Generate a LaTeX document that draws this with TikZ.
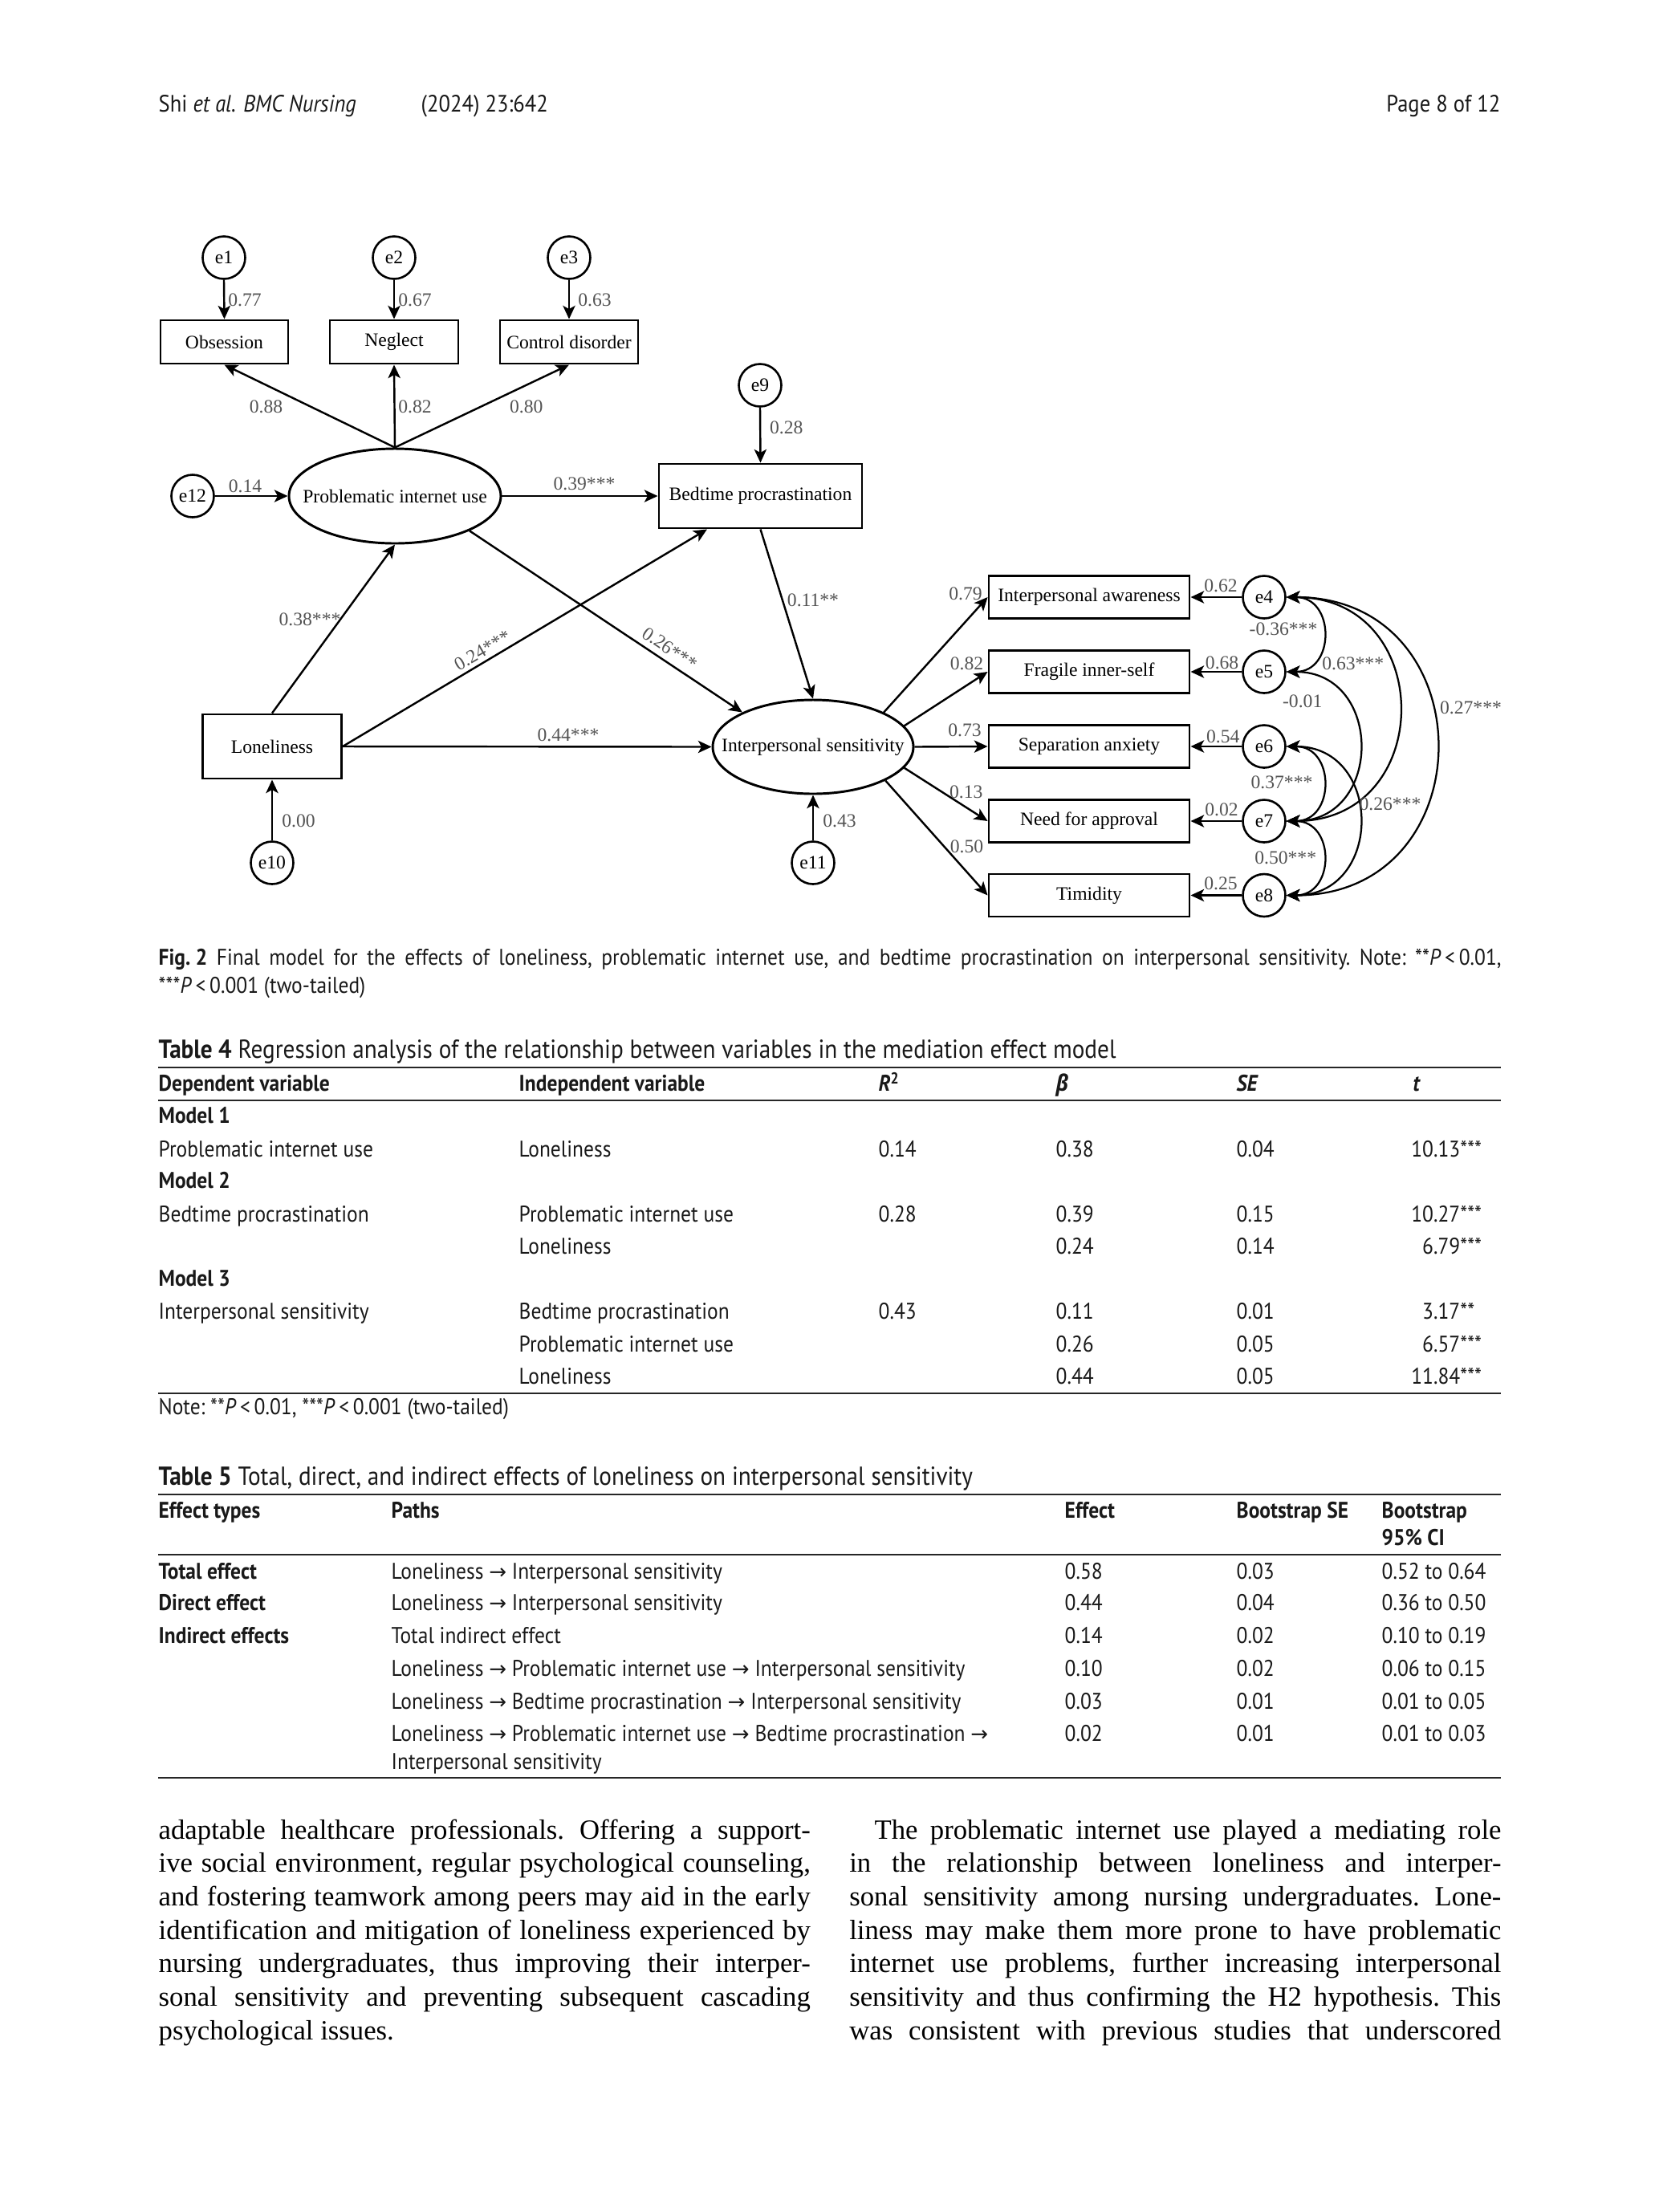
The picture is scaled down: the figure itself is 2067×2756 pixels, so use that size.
\documentclass[tikz,border=0pt]{standalone}
\usepackage{fontspec}
\setmainfont{Liberation Serif}
\newfontfamily\sansf[FakeStretch=0.9]{PT Sans}
\newfontfamily\grkf[FakeStretch=0.9]{Open Sans}
\newfontfamily\arrf{DejaVu Sans}
\usetikzlibrary{arrows.meta,shapes.geometric,calc}
\definecolor{labgray}{gray}{0.33}
\definecolor{txtgray}{gray}{0.1}
\newcommand\pxu[1]{#1*0.288pt}
\newcommand\dfont{\rmfamily\fontsize{6.8}{8}\selectfont}
\newcommand\tfont{\frenchspacing\sansf\fontsize{8.15}{9.6}\selectfont}
\newcommand\cfont{\frenchspacing\sansf\fontsize{9.35}{11}\selectfont}
\newcommand\hfont{\sansf\fontsize{8.5}{10}\selectfont}
\newcommand\bfont{\frenchspacing\rmfamily\fontsize{10}{12}\selectfont}
\newcommand\myar{{\arrf\fontsize{7.5}{7.5}\selectfont →}}
\newcommand\jl[2]{\makebox[#1][s]{#2}}
\newcommand\ctext[1]{\makebox[0pt]{#1}}
\tikzset{
  box/.style={draw, line width=0.85pt, inner sep=0pt, font=\dfont},
  lat/.style={draw, ellipse, line width=0.85pt, inner sep=0pt, font=\dfont},
  err/.style={draw, circle, line width=0.75pt, inner sep=0pt, minimum size=\pxu{53}, font=\dfont},
  lab/.style={inner sep=0pt, font=\dfont, text=labgray},
  arr/.style={-{Stealth[length=4.8pt,width=4.4pt,inset=1.2pt]}, line width=0.7pt},
  cov/.style={{Stealth[length=4.8pt,width=4.4pt,inset=1.2pt]}-{Stealth[length=4.8pt,width=4.4pt,inset=1.2pt]}, line width=0.65pt},
  tx/.style={inner sep=0pt, anchor=mid west, font=\tfont, text=txtgray},
  txr/.style={inner sep=0pt, anchor=mid east, font=\tfont, text=txtgray},
  capt/.style={inner sep=0pt, anchor=mid west, font=\cfont, text=txtgray},
  hdr/.style={inner sep=0pt, font=\hfont, text=txtgray},
  trule/.style={line width=0.5pt, draw=black!85},
  body/.style={inner sep=0pt, anchor=mid west, font=\bfont},
  rbox/.style={box, minimum width=\pxu{250}, minimum height=\pxu{53}},
  tbox/.style={box, minimum height=\pxu{54}},
}
\begin{document}
\begin{tikzpicture}[x=0.288pt,y=-0.288pt]
\fill[white] (0,0) rectangle (2067,2756);
\useasboundingbox (0,0) rectangle (2067,2756);

% ---------- header ----------
\node[hdr, anchor=mid west] (h1) at (197,132) {Shi \textit{et al. BMC Nursing}};
\node[hdr, anchor=mid west] (h2) at (524,132) {(2024) 23:642};
\node[hdr, anchor=mid east] (h3) at (1870,132) {Page 8 of 12};

% ---------- diagram nodes ----------
\node[err] (e1) at (279,321) {e1};
\node[err] (e2) at (491,321) {e2};
\node[err] (e3) at (709,321) {e3};
\node[tbox, minimum width=\pxu{159}] (obs) at (279.5,426) {Obsession};
\node[tbox, minimum width=\pxu{160}] (neg) at (491,426) {Neglect};
\node[tbox, minimum width=\pxu{172}] (con) at (709,426) {Control disorder};
\node[lat, minimum width=\pxu{264}, minimum height=\pxu{118}] (piu) at (492,618) {\ctext{Problematic internet use}};
\node[err] (e12) at (240,618) {e12};
\node[err] (e9) at (947,480) {e9};
\node[box, minimum width=\pxu{253}, minimum height=\pxu{80}] (bed) at (947.5,618) {Bedtime procrastination};
\node[box, minimum width=\pxu{173}, minimum height=\pxu{80}] (lon) at (339,930) {Loneliness};
\node[err] (e10) at (339,1075) {e10};
\node[lat, minimum width=\pxu{250}, minimum height=\pxu{117}] (is) at (1013,930.5) {\ctext{Interpersonal sensitivity}};
\node[err] (e11) at (1013,1075) {e11};

\node[rbox] (rb1) at (1357,744) {Interpersonal awareness};
\node[rbox] (rb2) at (1357,837) {Fragile inner-self};
\node[rbox] (rb3) at (1357,930) {Separation anxiety};
\node[rbox] (rb4) at (1357,1023) {Need for approval};
\node[rbox] (rb5) at (1357,1115.5) {Timidity};
\node[err] (e4) at (1575,744) {e4};
\node[err] (e5) at (1575,837) {e5};
\node[err] (e6) at (1575,930) {e6};
\node[err] (e7) at (1575,1023) {e7};
\node[err] (e8) at (1575,1115.5) {e8};

% ---------- connectors ----------
\draw[arr] (e1.south) -- (obs.north);
\draw[arr] (e2.south) -- (neg.north);
\draw[arr] (e3.south) -- (con.north);
\draw[arr] (piu.north) -- (obs.south);
\draw[arr] (piu.north) -- (neg.south);
\draw[arr] (piu.north) -- (con.south);
\draw[arr] (e12.east) -- (piu.west);
\draw[arr] (piu.east) -- (bed.west);
\draw[arr] (e9.south) -- (bed.north);
\draw[arr] (lon.north) -- (piu.south);
\coordinate (bedin) at ($(bed.south west)!0.24!(bed.south east)$);
\draw[arr] (lon.east) -- (bedin);
\draw[arr] (lon.east) -- (is.west);
\draw[arr] (piu.-25) -- (is.154);
\draw[arr] (bed.south) -- (is.north);
\draw[arr] (e10.north) -- (lon.south);
\draw[arr] (e11.north) -- (is.south);
\draw[arr] (is.26) -- (rb1.west);
\draw[arr] (is.13) -- (rb2.west);
\draw[arr] (is.east) -- (rb3.west);
\draw[arr] (is.-13) -- (rb4.west);
\draw[arr] (is.-25) -- (rb5.west);
\draw[arr] (e4.west) -- (rb1.east);
\draw[arr] (e5.west) -- (rb2.east);
\draw[arr] (e6.west) -- (rb3.east);
\draw[arr] (e7.west) -- (rb4.east);
\draw[arr] (e8.west) -- (rb5.east);
% covariances
\draw[cov] (e4.east) .. controls +(61,0) and +(61,0) .. (e5.east);
\draw[cov] (e4.east) .. controls +(187,0) and +(187,0) .. (e7.east);
\draw[cov] (e4.east) .. controls +(249,0) and +(249,0) .. (e8.east);
\draw[cov] (e5.east) .. controls +(121,0) and +(121,0) .. (e7.east);
\draw[cov] (e6.east) .. controls +(61,0) and +(61,0) .. (e7.east);
\draw[cov] (e6.east) .. controls +(121,0) and +(121,0) .. (e8.east);
\draw[cov] (e7.east) .. controls +(61,0) and +(61,0) .. (e8.east);

% ---------- path labels ----------
\node[lab] (l1) at (305,374) {0.77};
\node[lab] (l2) at (517,374) {0.67};
\node[lab] (l3) at (741,374) {0.63};
\node[lab] (l4) at (331.5,507) {0.88};
\node[lab] (l5) at (517,507) {0.82};
\node[lab] (l6) at (655.7,507) {0.80};
\node[lab] (l7) at (305.5,606) {0.14};
\node[lab] (l8) at (979.7,533) {0.28};
\node[lab] (l9) at (728,603) {0.39***};
\node[lab] (l10) at (386,771.5) {0.38***};
\node[lab, rotate=30] (l11) at (601,810.5) {0.24***};
\node[lab, rotate=-33.7] (l12) at (834.6,808) {0.26***};
\node[lab] (l13) at (1013,748) {0.11**};
\node[lab] (l14) at (708,915.7) {0.44***};
\node[lab] (l15) at (372,1023) {0.00};
\node[lab] (l16) at (1046,1023) {0.43};
\node[lab] (l17) at (1203,740) {0.79};
\node[lab] (l18) at (1204.5,826.7) {0.82};
\node[lab] (l19) at (1202,910) {0.73};
\node[lab] (l20) at (1203.7,986.7) {0.13};
\node[lab] (l21) at (1204.5,1055) {0.50};
\node[lab] (l22) at (1521,729.3) {0.62};
\node[lab] (l23) at (1522.6,826) {0.68};
\node[lab] (l24) at (1523.7,917.7) {0.54};
\node[lab] (l25) at (1522,1008.3) {0.02};
\node[lab] (l26) at (1521,1100.7) {0.25};
\node[lab] (l27) at (1599,783.3) {-0.36***};
\node[lab] (l28) at (1685.7,826.7) {0.63***};
\node[lab] (l29) at (1622.7,874) {-0.01};
\node[lab] (l30) at (1832.5,881.7) {0.27***};
\node[lab] (l31) at (1597,975) {0.37***};
\node[lab] (l32) at (1732,1001.7) {0.26***};
\node[lab] (l33) at (1601.7,1068.3) {0.50***};

% ---------- figure caption ----------
\node[capt, font=\tfont] (fc1) at (197,1195) {\jl{481.8pt}{\mbox{\textbf{Fig.\ 2}} Final model for the effects of loneliness, problematic internet use, and bedtime procrastination on interpersonal sensitivity. Note: **\textit{P}\,<\,0.01,}};
\node[capt, font=\tfont] (fc2) at (197,1230) {***\textit{P}\,<\,0.001 (two-tailed)};

% ---------- Table 4 ----------
\node[capt] (t4c) at (197,1311) {\textbf{Table 4} Regression analysis of the relationship between variables in the mediation effect model};
\draw[trule] (197,1330) -- (1870,1330);
\node[tx] (t4h1) at (197,1352) {\textbf{Dependent variable}};
\node[tx] (t4h2) at (646,1352) {\textbf{Independent variable}};
\node[tx] (t4h3) at (1094,1352) {\textbf{\textit{R}\textsuperscript{2}}};
\node[tx] (t4h4) at (1315,1352) {{\grkf\bfseries\itshape β}};
\node[tx] (t4h5) at (1540,1352) {\textbf{\textit{SE}}};
\node[tx] (t4h6) at (1760,1352) {\textbf{\textit{t}}};
\draw[trule] (197,1371) -- (1870,1371);
\node[tx] (m1) at (197,1392) {\textbf{Model 1}};
\node[tx] (r1a) at (197,1434) {Problematic internet use};
\node[tx] (r1b) at (646,1434) {Loneliness};
\node[tx] (r1c) at (1094,1434) {0.14};
\node[tx] (r1d) at (1315,1434) {0.38};
\node[tx] (r1e) at (1540,1434) {0.04};
\node[txr] (r1f) at (1820,1434) {10.13\rlap{***}};
\node[tx] (m2) at (197,1473) {\textbf{Model 2}};
\node[tx] (r2a) at (197,1515) {Bedtime procrastination};
\node[tx] (r2b) at (646,1515) {Problematic internet use};
\node[tx] (r2c) at (1094,1515) {0.28};
\node[tx] (r2d) at (1315,1515) {0.39};
\node[tx] (r2e) at (1540,1515) {0.15};
\node[txr] (r2f) at (1820,1515) {10.27\rlap{***}};
\node[tx] (r3b) at (646,1555) {Loneliness};
\node[tx] (r3d) at (1315,1555) {0.24};
\node[tx] (r3e) at (1540,1555) {0.14};
\node[txr] (r3f) at (1820,1555) {6.79\rlap{***}};
\node[tx] (m3) at (197,1595) {\textbf{Model 3}};
\node[tx] (r4a) at (197,1636) {Interpersonal sensitivity};
\node[tx] (r4b) at (646,1636) {Bedtime procrastination};
\node[tx] (r4c) at (1094,1636) {0.43};
\node[tx] (r4d) at (1315,1636) {0.11};
\node[tx] (r4e) at (1540,1636) {0.01};
\node[txr] (r4f) at (1820,1636) {3.17\rlap{**}};
\node[tx] (r5b) at (646,1677) {Problematic internet use};
\node[tx] (r5d) at (1315,1677) {0.26};
\node[tx] (r5e) at (1540,1677) {0.05};
\node[txr] (r5f) at (1820,1677) {6.57\rlap{***}};
\node[tx] (r6b) at (646,1717) {Loneliness};
\node[tx] (r6d) at (1315,1717) {0.44};
\node[tx] (r6e) at (1540,1717) {0.05};
\node[txr] (r6f) at (1820,1717) {11.84\rlap{***}};
\draw[trule] (197,1736) -- (1870,1736);
\node[tx] (t4n) at (197,1755) {Note: **\textit{P}\,<\,0.01, ***\textit{P}\,<\,0.001 (two-tailed)};

% ---------- Table 5 ----------
\node[capt] (t5c) at (197,1843) {\textbf{Table 5} Total, direct, and indirect effects of loneliness on interpersonal sensitivity};
\draw[trule] (197,1862) -- (1870,1862);
\node[tx] (t5h1) at (197,1884) {\textbf{Effect types}};
\node[tx] (t5h2) at (487,1884) {\textbf{Paths}};
\node[tx] (t5h3) at (1326,1884) {\textbf{Effect}};
\node[tx] (t5h4) at (1540,1884) {\textbf{Bootstrap SE}};
\node[tx] (t5h5) at (1721,1884) {\textbf{Bootstrap}};
\node[tx] (t5h6) at (1721,1918) {\textbf{95\% CI}};
\draw[trule] (197,1937) -- (1870,1937);
\node[tx] (s1a) at (197,1960) {\textbf{Total effect}};
\node[tx] (s1b) at (487,1960) {Loneliness \myar\ Interpersonal sensitivity};
\node[tx] (s1c) at (1326,1960) {0.58};
\node[tx] (s1d) at (1540,1960) {0.03};
\node[tx] (s1e) at (1721,1960) {0.52 to 0.64};
\node[tx] (s2a) at (197,1999) {\textbf{Direct effect}};
\node[tx] (s2b) at (487,1999) {Loneliness \myar\ Interpersonal sensitivity};
\node[tx] (s2c) at (1326,1999) {0.44};
\node[tx] (s2d) at (1540,1999) {0.04};
\node[tx] (s2e) at (1721,1999) {0.36 to 0.50};
\node[tx] (s3a) at (197,2040) {\textbf{Indirect effects}};
\node[tx] (s3b) at (487,2040) {Total indirect effect};
\node[tx] (s3c) at (1326,2040) {0.14};
\node[tx] (s3d) at (1540,2040) {0.02};
\node[tx] (s3e) at (1721,2040) {0.10 to 0.19};
\node[tx] (s4b) at (487,2081) {Loneliness \myar\ Problematic internet use \myar\ Interpersonal sensitivity};
\node[tx] (s4c) at (1326,2081) {0.10};
\node[tx] (s4d) at (1540,2081) {0.02};
\node[tx] (s4e) at (1721,2081) {0.06 to 0.15};
\node[tx] (s5b) at (487,2122) {Loneliness \myar\ Bedtime procrastination \myar\ Interpersonal sensitivity};
\node[tx] (s5c) at (1326,2122) {0.03};
\node[tx] (s5d) at (1540,2122) {0.01};
\node[tx] (s5e) at (1721,2122) {0.01 to 0.05};
\node[tx] (s6b) at (487,2162) {Loneliness \myar\ Problematic internet use \myar\ Bedtime procrastination \myar};
\node[tx] (s6c) at (1326,2162) {0.02};
\node[tx] (s6d) at (1540,2162) {0.01};
\node[tx] (s6e) at (1721,2162) {0.01 to 0.03};
\node[tx] (s7b) at (487,2197) {Interpersonal sensitivity};
\draw[trule] (197,2215) -- (1870,2215);

% ---------- body text ----------
\node[body] (a1) at (197,2283) {\jl{233.9pt}{adaptable healthcare professionals. Offering a support-}};
\node[body] (a2) at (197,2324.7) {\jl{233.9pt}{ive social environment, regular psychological counseling,}};
\node[body] (a3) at (197,2366.4) {\jl{233.9pt}{and fostering teamwork among peers may aid in the early}};
\node[body] (a4) at (197,2408) {\jl{233.9pt}{identification and mitigation of loneliness experienced by}};
\node[body] (a5) at (197,2449.8) {\jl{233.9pt}{nursing undergraduates, thus improving their interper-}};
\node[body] (a6) at (197,2491.5) {\jl{233.9pt}{sonal sensitivity and preventing subsequent cascading}};
\node[body] (a7) at (197,2533) {psychological issues.};
\node[body] (b1) at (1057.6,2283) {\jl{233.9pt}{\hspace*{9pt}The problematic internet use played a mediating role}};
\node[body] (b2) at (1057.6,2324.7) {\jl{233.9pt}{in the relationship between loneliness and interper-}};
\node[body] (b3) at (1057.6,2366.4) {\jl{233.9pt}{sonal sensitivity among nursing undergraduates. Lone-}};
\node[body] (b4) at (1057.6,2408) {\jl{233.9pt}{liness may make them more prone to have problematic}};
\node[body] (b5) at (1057.6,2449.8) {\jl{233.9pt}{internet use problems, further increasing interpersonal}};
\node[body] (b6) at (1057.6,2491.5) {\jl{233.9pt}{sensitivity and thus confirming the H2 hypothesis. This}};
\node[body] (b7) at (1057.6,2533) {\jl{233.9pt}{was consistent with previous studies that underscored}};
\end{tikzpicture}
\end{document}
